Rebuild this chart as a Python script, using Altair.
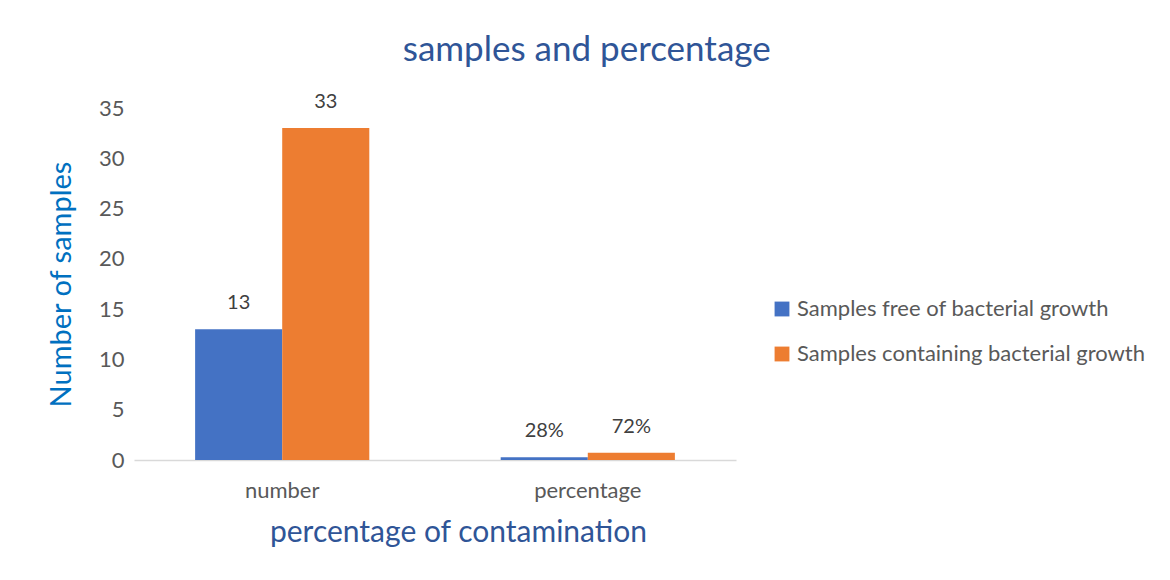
import altair as alt
import pandas as pd

categories = ["number", "number", "percentage", "percentage"]
series = ["Samples free of bacterial growth", "Samples containing bacterial growth",
          "Samples free of bacterial growth", "Samples containing bacterial growth"]
values = [13, 33, 0.28, 0.72]
labels = ["13", "33", "28%", "72%"]

series_order = ["Samples free of bacterial growth", "Samples containing bacterial growth"]
colors = ["#4472C4", "#ED7D31"]

df = pd.DataFrame({"cat": categories, "series": series, "value": values, "label": labels})

FONT = "Lato"

x = alt.X("cat:N", title="percentage of contamination",
          scale=alt.Scale(paddingInner=0.43),
          axis=alt.Axis(labelAngle=0, ticks=False, domainColor="#D9D9D9", domainWidth=1.5,
                        labelFontSize=22, labelColor="#595959", labelPadding=20,
                        titleFontSize=30, titleColor="#2F5597", titleFontWeight="normal",
                        titlePadding=16, titleX=324, titleAnchor="middle"))
xo = alt.XOffset("series:N", sort=series_order, scale=alt.Scale(paddingInner=0))

bars = alt.Chart(df).mark_bar().encode(
    x=x, xOffset=xo,
    y=alt.Y("value:Q", title="Number of samples",
            scale=alt.Scale(domain=[0, 35]),
            axis=alt.Axis(values=[0, 5, 10, 15, 20, 25, 30, 35], grid=False, domain=False,
                          ticks=False, labelFontSize=22, labelColor="#595959", labelPadding=10,
                          titleFontSize=29, titleColor="#0070C0", titleFontWeight="normal",
                          titlePadding=22)),
    color=alt.Color("series:N", sort=series_order,
                    scale=alt.Scale(domain=series_order, range=colors),
                    legend=alt.Legend(title=None, orient="none", legendX=637, legendY=190,
                                      symbolType="square", symbolSize=220, symbolStrokeWidth=0,
                                      labelFontSize=22, labelColor="#595959", rowPadding=23,
                                      labelLimit=500, symbolOpacity=1)),
)

text = alt.Chart(df).mark_text(dy=-26, fontSize=20, color="#404040", font=FONT).encode(
    x=x, xOffset=xo,
    y="value:Q",
    text="label:N",
)

chart = (bars + text).properties(
    width=602, height=352,
    title=alt.TitleParams("samples and percentage", fontSize=35, color="#2F5597",
                          fontWeight="normal", anchor="middle", frame="bounds",
                          offset=24, dx=-10, font=FONT),
    padding={"left": 39, "top": 25, "right": 10, "bottom": 10},
).configure(font=FONT).configure_view(stroke=None)

chart.save("out.html", embed_options={"renderer": "svg", "actions": False})
